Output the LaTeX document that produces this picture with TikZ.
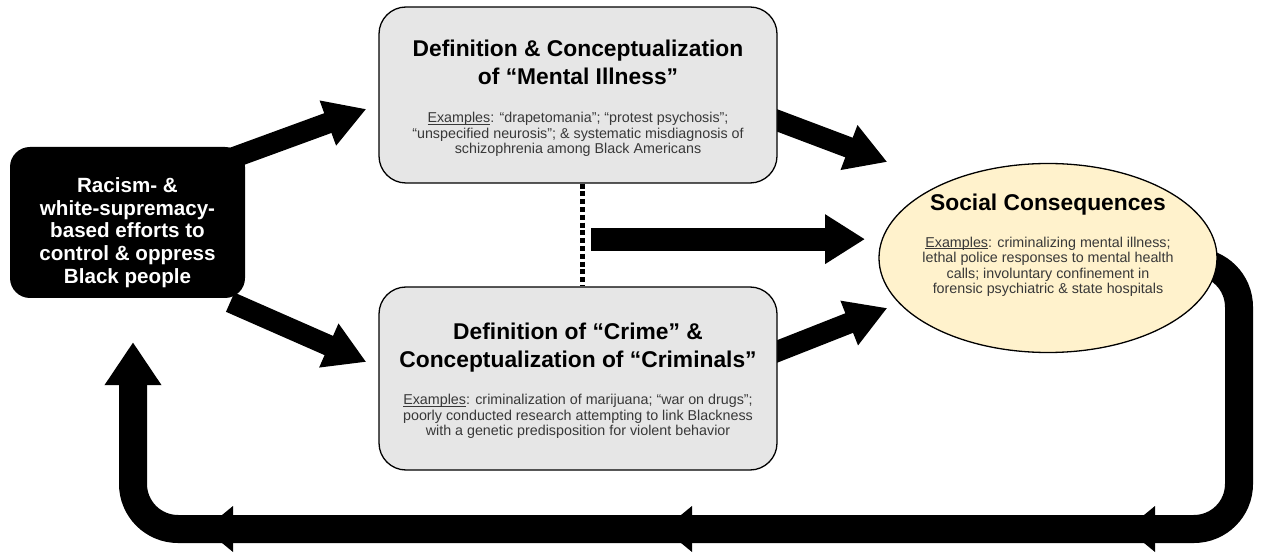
\documentclass[tikz,border=0pt]{standalone}
\usepackage{fontspec}
\setmainfont{Liberation Sans}
\usetikzlibrary{positioning,shapes.geometric,arrows.meta,backgrounds}
\definecolor{boxgray}{HTML}{E6E6E6}
\definecolor{paleyellow}{HTML}{FFF2CC}
\definecolor{exgray}{HTML}{383838}
\newcommand{\headfont}{\fontsize{22.8}{28}\selectfont\bfseries}
\newcommand{\exfont}{\fontsize{14.3}{15.6}\selectfont}
\newsavebox{\exbox}
\newcommand{\exlabel}{\sbox{\exbox}{Examples}\rlap{\rule[-1.8pt]{\wd\exbox}{0.8pt}}\usebox{\exbox}:}

\begin{document}
\begin{tikzpicture}[x=1pt,y=1pt,
    card/.style={draw, line width=1.3pt, fill=boxgray, rounded corners=27pt, minimum width=398pt, inner sep=0pt},
    headtext/.style={align=center, inner sep=0pt, font=\headfont},
    extext/.style={align=center, inner sep=0pt, font=\exfont, text=exgray},
    blockarrow/.style={line width=21pt, -{Triangle[length=41pt,width=45pt]}},
    feedback/.style={line width=28pt, rounded corners=45pt, -{Triangle[length=43pt,width=54pt]}},
    dotline/.style={line width=5pt, dash pattern=on 5pt off 2.8pt}]
    \useasboundingbox (0,0) rectangle (1262,555);

    % boxes
    \node (racism) [fill=black, rounded corners=20pt, minimum width=235pt, minimum height=151pt] at (127.5,332.5) {};
    \node (racismtext) [align=center, inner sep=0pt, text=white, font=\fontsize{20.6}{22.6}\selectfont\bfseries] at ([yshift=-10pt]racism.center)
        {Racism- \&\\ white-supremacy-\\ based efforts to\\ control \& oppress\\ Black people};

    \node (mental) [card, minimum height=176pt] at (578,460) {};
    \node (mentalhead) [headtext, below=33.5pt of mental.north] {Definition \& Conceptualization\\ of “Mental Illness”};
    \node (mentalex) [extext, below=105.6pt of mental.north]
        {\exlabel{} “drapetomania”; “protest psychosis”;\\ “unspecified neurosis”; \& systematic misdiagnosis of\\ schizophrenia among Black Americans};

    \node (crime) [card, minimum height=183pt] at (578,176.5) {};
    \node (crimehead) [headtext, below=36.4pt of crime.north] {Definition of “Crime” \&\\ Conceptualization of “Criminals”};
    \node (crimeex) [extext, below=107.6pt of crime.north]
        {\exlabel{} criminalization of marijuana; “war on drugs”;\\ poorly conducted research attempting to link Blackness\\ with a genetic predisposition for violent behavior};

    \node (conseq) [ellipse, draw, line width=1.3pt, fill=paleyellow, minimum width=338pt, minimum height=189pt] at (1048,297) {};
    \node (conseqhead) [headtext, anchor=north] at ([yshift=64.6pt]conseq.center) {Social Consequences};
    \node (conseqex) [extext, anchor=north] at ([yshift=21.4pt]conseq.center)
        {\exlabel{} criminalizing mental illness;\\ lethal police responses to mental health\\ calls; involuntary confinement in\\ forensic psychiatric \& state hospitals};

    \draw[dotline] ([xshift=4pt]mental.south) -- ([xshift=4pt]crime.north);
    \coordinate (gap) at ([yshift=-52pt]mental.south);

    % connectors behind the boxes
    \begin{scope}[on background layer]
        \draw[blockarrow] ([shift={(-15pt,-12pt)}]racism.north east) -- ([shift={(-12pt,-14pt)}]mental.west);
        \draw[blockarrow] ([shift={(-15pt,-4pt)}]racism.south east) -- ([shift={(-12pt,16.5pt)}]crime.west);
        \draw[blockarrow] ([shift={(-7pt,-23pt)}]mental.east) -- ([shift={(9pt,96pt)}]conseq.west);
        \draw[blockarrow] ([shift={(-7pt,24.5pt)}]crime.east) -- ([shift={(9pt,-50pt)}]conseq.west);
        \draw[line width=23pt, -{Triangle[length=40pt,width=47pt]}] ([shift={(13pt,-3.5pt)}]gap) -- ++(274,0);
        \coordinate (loopstart) at ([shift={(102pt,-4pt)}]conseq.center);
        \draw[feedback] (loopstart) -| (1239,26) -| ([shift={(5.5pt,-44pt)}]racism.south);
        \foreach \tx in {205,664,1127}{
            \fill (\tx,26) -- ++(28,23) -- ++(0,-46) -- cycle;
        }
    \end{scope}
\end{tikzpicture}
\end{document}
